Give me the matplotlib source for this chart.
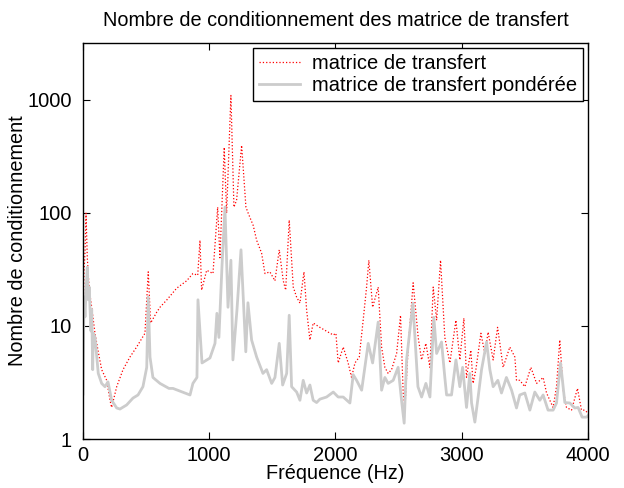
import matplotlib
matplotlib.use("Agg")
import matplotlib.pyplot as plt
import matplotlib.ticker as mticker
import numpy as np

# matrice de transfert (brute)
freq_raw = [0, 8, 16, 24, 34, 50, 69, 95, 121, 148, 188, 214, 227, 267, 317, 372,
            425, 491, 517, 536, 584, 610, 663, 742, 821, 871, 909, 927, 940, 980,
            1030, 1067, 1085, 1119, 1138, 1172, 1196, 1217, 1257, 1291, 1309, 1349,
            1376, 1415, 1442, 1481, 1521, 1555, 1587, 1606, 1634, 1666, 1693, 1719,
            1751, 1772, 1798, 1824, 1877, 1943, 1983, 2004, 2022, 2062, 2101, 2128,
            2155, 2189, 2220, 2247, 2265, 2295, 2339, 2366, 2392, 2418, 2445, 2485,
            2516, 2537, 2551, 2577, 2616, 2656, 2683, 2717, 2749, 2775, 2802, 2833,
            2867, 2907, 2955, 2986, 3018, 3039, 3073, 3091, 3113, 3153, 3184, 3210,
            3250, 3285, 3303, 3329, 3382, 3422, 3435, 3461, 3501, 3549, 3594, 3646,
            3673, 3725, 3752, 3778, 3805, 3831, 3871, 3918, 3950, 3976, 4000]
cond_raw = [12, 30, 45, 99, 40, 20.7, 14.6, 8.6, 5.9, 4.1, 3.3, 2.2, 1.9, 2.9, 4.1, 5.3,
            6.5, 8.6, 30, 10.6, 13.2, 14.6, 16.9, 21.5, 25, 29, 28, 57, 20.7, 31,
            29, 112, 40, 378, 99, 1087, 112, 129, 394, 112, 99, 77,
            57, 44, 29, 30, 25, 47, 25, 20.7, 86, 22, 17.9, 15.9,
            30, 13.8, 7.5, 10.6, 9.7, 8.8, 8.3, 8.6, 4.7, 6.5, 4.7, 3.5,
            4.7, 5.3, 11.2, 22, 38, 14.6, 22, 6.5, 4.3, 3.8, 4.1, 5.7,
            12.4, 2.55, 1.9, 6.5, 24, 7.9, 5.0, 7.0, 4.3, 22, 11.2, 38,
            7.9, 4.7, 11.2, 5.0, 11.7, 3.5, 6.1, 3.1, 4.1, 8.6, 5.7, 8.8,
            5.0, 9.7, 7.0, 4.3, 6.5, 5.3, 3.3, 3.3, 2.9, 4.3, 3.1, 3.5,
            2.55, 1.9, 2.9, 7.5, 2.7, 1.9, 1.8, 2.8, 1.8, 1.8, 1.7]

# matrice de transfert pondérée
freq_w = [0, 8, 16, 24, 34, 42, 50, 55, 63, 69, 77, 82, 95, 109, 121, 148, 174, 198,
          227, 267, 293, 346, 396, 436, 475, 505, 517, 531, 554, 610, 681, 713, 848,
          871, 903, 911, 943, 1006, 1046, 1061, 1077, 1101, 1125, 1149, 1172, 1188,
          1220, 1252, 1290, 1307, 1336, 1376, 1426, 1455, 1495, 1521, 1555, 1582,
          1614, 1634, 1653, 1693, 1719, 1745, 1772, 1798, 1824, 1851, 1877, 1930,
          1983, 2022, 2062, 2115, 2141, 2168, 2208, 2260, 2295, 2339, 2366, 2392,
          2418, 2458, 2497, 2524, 2545, 2564, 2614, 2654, 2683, 2717, 2749, 2780,
          2802, 2841, 2867, 2881, 2920, 2955, 2986, 3008, 3039, 3065, 3079, 3105,
          3131, 3158, 3198, 3224, 3250, 3287, 3316, 3355, 3396, 3435, 3461, 3501,
          3541, 3580, 3620, 3646, 3685, 3725, 3752, 3784, 3818, 3858, 3897, 3923,
          3955, 3990, 4000]
cond_w = [2.5, 18, 12, 20, 33, 17, 22, 15, 9, 14, 4.1, 8.6, 7.9, 5.3, 3.8, 3.1, 2.9, 3.2,
          2.2, 1.88, 1.84, 2.0, 2.3, 2.45, 2.9, 4.3, 18, 5.3, 3.5, 3.1, 2.8, 2.8, 2.45,
          3.1, 3.5, 17, 4.7, 5.2, 7.0, 12.9, 7.9, 33, 112, 14.6, 38, 5.0,
          13.8, 47, 5.9, 16, 7.5, 5.3, 3.8, 4.1, 3.1, 3.5, 7.0, 3.0,
          3.8, 12.4, 2.9, 2.6, 2.2, 3.3, 2.55, 3.0, 2.2, 2.1, 2.25, 2.35,
          2.6, 2.35, 2.35, 2.08, 3.7, 3.3, 2.7, 7.0, 4.7, 10.8, 2.7, 3.5,
          3.1, 3.3, 4.3, 2.2, 1.38, 5.0, 15.9, 2.9, 2.35, 3.1, 2.35, 11.9,
          5.7, 7.2, 3.5, 2.45, 2.45, 5.0, 2.9, 4.3, 1.9, 3.8, 2.08, 1.41,
          2.35, 4.1, 7.2, 4.1, 2.9, 3.3, 2.55, 3.5, 2.7, 1.88, 2.45, 2.55,
          1.8, 2.6, 2.2, 2.45, 1.8, 1.8, 2.08, 4.7, 2.1, 2.08, 1.88, 1.9,
          1.56, 1.56, 1.6]

plt.rcParams['font.family'] = ['Liberation Sans', 'DejaVu Sans']
plt.rcParams['font.size'] = 14.5

fig = plt.figure(figsize=(6.24, 4.88), dpi=100)
ax = fig.add_axes([0.133, 0.1004, 0.809, 0.8115])

ax.plot(freq_raw, cond_raw, color='red', linestyle=':', linewidth=0.9,
        label='matrice de transfert')
ax.plot(freq_w, cond_w, color='#cccccc', linestyle='-', linewidth=2.0,
        solid_joinstyle='round', label='matrice de transfert pondérée')

ax.set_yscale('log')
ax.set_xlim(0, 4000)
ax.set_ylim(1, 10 ** 3.5)
ax.set_xticks([0, 1000, 2000, 3000, 4000])
ax.set_yticks([1, 10, 100, 1000])
ax.yaxis.set_major_formatter(mticker.FuncFormatter(lambda v, p: '%d' % v))
ax.yaxis.set_minor_locator(mticker.NullLocator())
ax.tick_params(direction='in', top=True, right=True, length=5, width=0.8, labelsize=14.5)
ax.tick_params(axis='x', pad=5)
ax.tick_params(axis='y', pad=8)
for s in ax.spines.values():
    s.set_linewidth(1.0)

ax.set_xlabel('Fréquence (Hz)', fontsize=14.3, labelpad=-1)
ax.set_ylabel('Nombre de conditionnement', fontsize=14.3, labelpad=0)
ax.set_title('Nombre de conditionnement des matrice de transfert', fontsize=14.3, pad=12)

leg = ax.legend(loc='upper right', frameon=True, fancybox=False,
                edgecolor='black', framealpha=1, handlelength=2.0,
                borderpad=0.3, labelspacing=0.15, borderaxespad=0.25, handletextpad=0.6)
leg.get_frame().set_linewidth(1.0)

fig.savefig('out.png', dpi=100)
